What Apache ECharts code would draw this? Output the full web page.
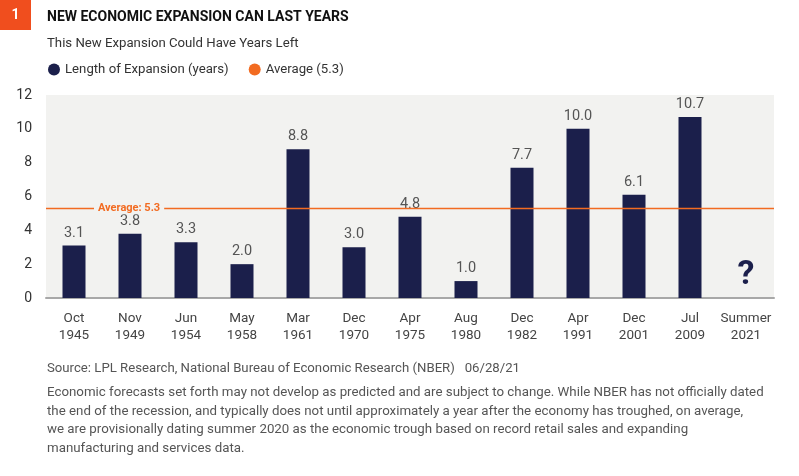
<!DOCTYPE html>
<html>
<head>
<meta charset="utf-8">
<script src="https://cdn.jsdelivr.net/npm/echarts@6/dist/echarts.min.js"></script>
<style>
html,body{margin:0;padding:0;background:#fff;}
#c{width:799px;height:476px;}
</style>
</head>
<body>
<div id="c"></div>
<script>
const categories = ['Oct\n1945','Nov\n1949','Jun\n1954','May\n1958','Mar\n1961','Dec\n1970','Apr\n1975','Aug\n1980','Dec\n1982','Apr\n1991','Dec\n2001','Jul\n2009','Summer\n2021'];
const expansionYears = [3.1, 3.8, 3.3, 2.0, 8.8, 3.0, 4.8, 1.0, 7.7, 10.0, 6.1, 10.7, null];
const averageValue = 5.3;
const unknownCategory = 'Summer\n2021';
const unknownMarkValue = 1.35;
const yTicks = [0, 2, 4, 6, 8, 10, 12];

const titleText = 'NEW ECONOMIC EXPANSION CAN LAST YEARS';
const subtitleText = 'This New Expansion Could Have Years Left';
const sourceText = 'Source: LPL Research, National Bureau of Economic Research (NBER)   06/28/21';
const noteLines = [
  'Economic forecasts set forth may not develop as predicted and are subject to change. While NBER has not officially dated',
  'the end of the recession, and typically does not until approximately a year after the economy has troughed, on average,',
  'we are provisionally dating summer 2020 as the economic trough based on record retail sales and expanding',
  'manufacturing and services data.'
];

const FONT = 'Roboto, sans-serif';
const NAVY = '#1b1f4b';
const ORANGE = '#f26b21';

const chart = echarts.init(document.getElementById('c'), null, {renderer: 'canvas'});
chart.setOption({
  animation: false,
  backgroundColor: '#ffffff',
  textStyle: {fontFamily: FONT},
  title: [
    {text: titleText, left: 47, top: 10, padding: 0, textStyle: {fontFamily: FONT, fontWeight: 'bold', fontSize: 14, color: '#111'}},
    {text: subtitleText, left: 47, top: 37, padding: 0, textStyle: {fontFamily: FONT, fontWeight: 'normal', fontSize: 13.2, color: '#333'}},
    {text: sourceText, left: 47, top: 362, padding: 0, textStyle: {fontFamily: FONT, fontWeight: 'normal', fontSize: 13.2, color: '#555'}},
    {text: noteLines.join('\n'), left: 47, top: 383, padding: 0, textStyle: {fontFamily: FONT, fontWeight: 'normal', fontSize: 13.3, color: '#555', lineHeight: 18.8}}
  ],
  graphic: [
    {type: 'rect', left: 0, top: 0, shape: {width: 31, height: 30}, style: {fill: '#f04e1e'}},
    {type: 'text', x: 15.5, y: 15, style: {text: '1', fill: '#fff', font: 'bold 14px ' + FONT, textAlign: 'center', textVerticalAlign: 'middle'}}
  ],
  legend: {
    left: 48, top: 63, padding: 0, itemWidth: 12, itemHeight: 12, itemGap: 20, icon: 'circle',
    textStyle: {fontFamily: FONT, fontSize: 13.2, color: '#333'},
    data: [{name: 'Length of Expansion (years)', itemStyle: {color: NAVY}}, {name: 'Average (5.3)', itemStyle: {color: ORANGE}}]
  },
  grid: {left: 46, right: 25, top: 95, bottom: 178, show: true, backgroundColor: '#f2f2f0', borderWidth: 0},
  xAxis: {
    type: 'category', data: categories,
    axisLine: {lineStyle: {color: '#a8a8a8', width: 2}},
    axisTick: {show: false},
    axisLabel: {color: '#444', fontSize: 13.5, lineHeight: 17, margin: 12, interval: 0, fontFamily: FONT}
  },
  yAxis: {
    type: 'value', min: yTicks[0], max: yTicks[yTicks.length - 1], interval: 2,
    axisLine: {show: false}, axisTick: {show: false}, splitLine: {show: false},
    axisLabel: {color: '#333', fontSize: 14, margin: 14, fontFamily: FONT}
  },
  series: [
    {
      name: 'Length of Expansion (years)', type: 'bar', data: expansionYears, barWidth: 23,
      itemStyle: {color: NAVY},
      label: {show: true, position: 'top', distance: 5, color: '#555', fontSize: 14.5, fontFamily: FONT,
        formatter: p => p.value == null ? '' : Number(p.value).toFixed(1)},
      markPoint: {
        symbol: 'circle', symbolSize: 1, itemStyle: {color: 'rgba(0,0,0,0)'},
        label: {show: true, position: 'inside', formatter: '?', color: NAVY, fontSize: 34, fontWeight: 'bold', fontFamily: FONT},
        data: [{coord: [unknownCategory, unknownMarkValue]}]
      }
    },
    {
      name: 'Average (5.3)', type: 'line', data: [], itemStyle: {color: ORANGE},
      markLine: {
        silent: true, symbol: 'none',
        lineStyle: {color: ORANGE, width: 1.3, type: 'solid'},
        label: {show: true, position: 'insideStartTop', distance: [48, -6], formatter: 'Average: ' + averageValue.toFixed(1),
          color: ORANGE, fontWeight: 'bold', fontSize: 11, fontFamily: FONT, lineHeight: 12,
          backgroundColor: '#f2f2f0', padding: [0, 4]},
        data: [{yAxis: averageValue}]
      }
    }
  ]
});
</script>
</body>
</html>
